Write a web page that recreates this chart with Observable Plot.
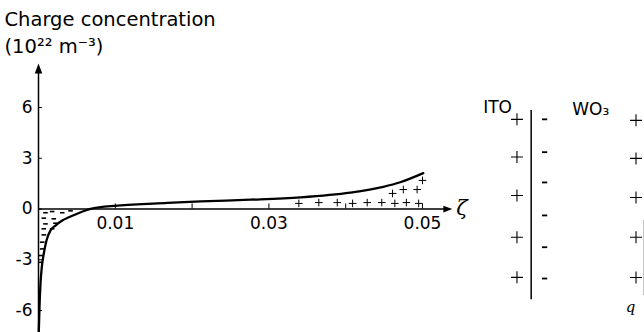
<!DOCTYPE html>
<html>
<head>
<meta charset="utf-8">
<script src="https://cdn.jsdelivr.net/npm/d3@7"></script>
<script src="https://cdn.jsdelivr.net/npm/@observablehq/plot@0.6"></script>
<style>
  html, body { margin: 0; padding: 0; background: #fff; }
</style>
</head>
<body>
<div id="chart"></div>
<script>
// ---- data ----
const titleLines = ["Charge concentration", "(10²² m⁻³)"];
const axisLabelX = "ζ";

// charge concentration curve: zeta (dimensionless), rho (10^22 m^-3)
const curveZeta = [0.00003, 0.00013, 0.00026, 0.00043, 0.00069, 0.00104, 0.00156, 0.00221, 0.00309, 0.00395, 0.00504, 0.00612, 0.00677, 0.0103, 0.0168, 0.0211, 0.0276, 0.0341, 0.0406, 0.0449, 0.0471, 0.0501];
const curveRho  = [-7.4, -5.81, -4.41, -3.44, -2.63, -1.86, -1.27, -0.98, -0.68, -0.49, -0.28, -0.09, 0.01, 0.20, 0.36, 0.45, 0.55, 0.69, 0.97, 1.31, 1.58, 2.12];

// y ticks / x ticks
const yTicks = [-6, -3, 0, 3, 6];
const yTickLabels = ["-6", "-3", "0", "3", "6"];
const xTickMarks = [0.01, 0.02, 0.03, 0.04, 0.05];
const xTickLabelValues = [0.01, 0.03, 0.05];
const xTickLabels = ["0.01", "0.03", "0.05"];

// negative charge fill ("-" marks) inside the negative lobe
const negZeta = [0.00091, 0.00178, 0.00309, 0.00417, 0.00069, 0.00199, 0.00091, 0.00221, 0.00069, 0.00178, 0.00069, 0.00048, 0.00048, 0.00026, 0.00026];
const negRho  = [-0.22, -0.15, -0.22, -0.11, -0.54, -0.58, -0.88, -0.84, -1.17, -1.17, -1.53, -1.96, -2.36, -2.75, -3.15];

// positive charge fill ("+" marks) under the rising end
const posZeta = [0.0339, 0.0365, 0.0389, 0.0409, 0.0428, 0.0447, 0.0461, 0.0464, 0.0475, 0.0479, 0.0493, 0.0495, 0.0500];
const posRho  = [0.33, 0.38, 0.38, 0.33, 0.38, 0.38, 0.92, 0.33, 1.15, 0.38, 1.15, 0.33, 1.69];

// ITO / WO3 schematic (placed in the same zeta/rho coordinates)
const itoPlusZeta = 0.0623, itoPlusRho = [5.30, 3.07, 0.80, -1.67, -4.04];
const itoWallZeta = 0.06415, itoWallRho = [5.83, -5.36];
const itoMinusZeta = 0.0659, itoMinusRho = [5.30, 3.36, 1.57, -0.38, -2.26, -4.11];
const wo3PlusZeta = 0.0778, wo3PlusRho = [5.24, 2.99, 0.68, -1.67, -4.05];
const wo3EdgeZeta = 0.0788, wo3EdgeRho = [-0.68, -5.12];
const schematicLabels = [
  {z: 0.0579, r: 5.65, t: "ITO"},
  {z: 0.0695, r: 5.53, t: "WO₃"}
];
const qLabel = {z: 0.0771, r: -5.83, t: "q"};

// axis extents
const yAxisEnds = [-7.6, 8.3];
const xAxisEnd = 0.0533;

// ---- build tables ----
const curve = curveZeta.map((z, i) => ({z, r: curveRho[i]}));
const negMarks = negZeta.map((z, i) => ({z, r: negRho[i]}));
const posMarks = posZeta.map((z, i) => ({z, r: posRho[i]}));
const itoPlus = itoPlusRho.map(r => ({z: itoPlusZeta, r}));
const itoMinus = itoMinusRho.map(r => ({z: itoMinusZeta, r}));
const wo3Plus = wo3PlusRho.map(r => ({z: wo3PlusZeta, r}));

// custom symbols
const plusSym = {draw(ctx, size) { const r = Math.sqrt(size / Math.PI);
  ctx.moveTo(-r, 0); ctx.lineTo(r, 0); ctx.moveTo(0, -r); ctx.lineTo(0, r); }};
const dashSym = {draw(ctx, size) { const r = Math.sqrt(size / Math.PI);
  ctx.moveTo(-r, 0); ctx.lineTo(r, 0); }};
const arrowUp = {draw(ctx, size) { const r = Math.sqrt(size / Math.PI);
  ctx.moveTo(0, -r); ctx.lineTo(0.75 * r, r); ctx.lineTo(-0.75 * r, r); ctx.closePath(); }};
const arrowRight = {draw(ctx, size) { const r = Math.sqrt(size / Math.PI);
  ctx.moveTo(r, 0); ctx.lineTo(-r, -0.75 * r); ctx.lineTo(-r, 0.75 * r); ctx.closePath(); }};

const font = "'DejaVu Sans', sans-serif";

const chart = Plot.plot({
  width: 644,
  height: 332,
  margin: 0,
  style: {fontFamily: font, background: "#fff", overflow: "visible"},
  x: {domain: [0, 0.05], range: [38, 422], axis: null},
  y: {domain: [-6, 6], range: [310, 107], axis: null},
  marks: [
    // axes
    Plot.ruleX([0], {y1: yAxisEnds[0], y2: yAxisEnds[1], stroke: "black", strokeWidth: 1.5}),
    Plot.ruleY([0], {x1: 0, x2: xAxisEnd, stroke: "black", strokeWidth: 1.5}),
    Plot.dot([{z: 0, r: yAxisEnds[1]}], {x: "z", y: "r", symbol: arrowUp, r: 5, fill: "black", stroke: null}),
    Plot.dot([{z: xAxisEnd, r: 0}], {x: "z", y: "r", symbol: arrowRight, r: 4.5, fill: "black", stroke: null}),
    // y ticks (inward) and labels
    Plot.ruleY(yTicks, {x1: 0, x2: 0.0005, stroke: "black", strokeWidth: 1}),
    Plot.text(yTicks, {x: 0, y: d => d, text: (d, i) => yTickLabels[i], textAnchor: "end", dx: -6, fontSize: 17, fill: "black"}),
    // x ticks (upward) and labels
    Plot.ruleX(xTickMarks, {y1: 0, y2: 0.3, stroke: "black", strokeWidth: 1}),
    Plot.text(xTickLabelValues, {x: d => d, y: 0, text: (d, i) => xTickLabels[i], lineAnchor: "top", dy: 8, fontSize: 17, fill: "black"}),
    Plot.text([axisLabelX], {x: xAxisEnd, y: 0, dx: 14, dy: -1, fontSize: 21, fontStyle: "italic", fill: "black", fontFamily: "'DejaVu Serif', serif"}),
    // fills
    Plot.dot(negMarks, {x: "z", y: "r", symbol: dashSym, r: 2.3, stroke: "black", strokeWidth: 1.6}),
    Plot.dot(posMarks, {x: "z", y: "r", symbol: plusSym, r: 3.8, stroke: "black", strokeWidth: 1}),
    // curve
    Plot.line(curve, {x: "z", y: "r", curve: "monotone-x", stroke: "black", strokeWidth: 2.3}),
    // title
    Plot.text([titleLines[0]], {frameAnchor: "top-left", dx: 4, dy: 12, lineAnchor: "top", fontSize: 19.5, fill: "black"}),
    Plot.text([titleLines[1]], {frameAnchor: "top-left", dx: 4, dy: 39, lineAnchor: "top", fontSize: 19.5, fill: "black"}),
    // schematic
    Plot.text(schematicLabels, {x: "z", y: "r", text: "t", textAnchor: "start", lineAnchor: "bottom", fontSize: 17, fill: "black"}),
    Plot.dot(itoPlus, {x: "z", y: "r", symbol: plusSym, r: 6, stroke: "black", strokeWidth: 1.1}),
    Plot.dot(wo3Plus, {x: "z", y: "r", symbol: plusSym, r: 6, stroke: "black", strokeWidth: 1.1}),
    Plot.dot(itoMinus, {x: "z", y: "r", symbol: dashSym, r: 2.6, stroke: "black", strokeWidth: 1.8}),
    Plot.ruleX([itoWallZeta], {y1: itoWallRho[0], y2: itoWallRho[1], stroke: "black", strokeWidth: 1.5}),
    Plot.ruleX([wo3EdgeZeta], {y1: wo3EdgeRho[0], y2: wo3EdgeRho[1], stroke: "#bbb", strokeWidth: 1}),
    Plot.text([qLabel], {x: "z", y: "r", text: "t", fontSize: 15, fontStyle: "italic", fontFamily: "'DejaVu Serif', serif", fill: "black"})
  ]
});
document.getElementById("chart").appendChild(chart);
</script>
</body>
</html>
